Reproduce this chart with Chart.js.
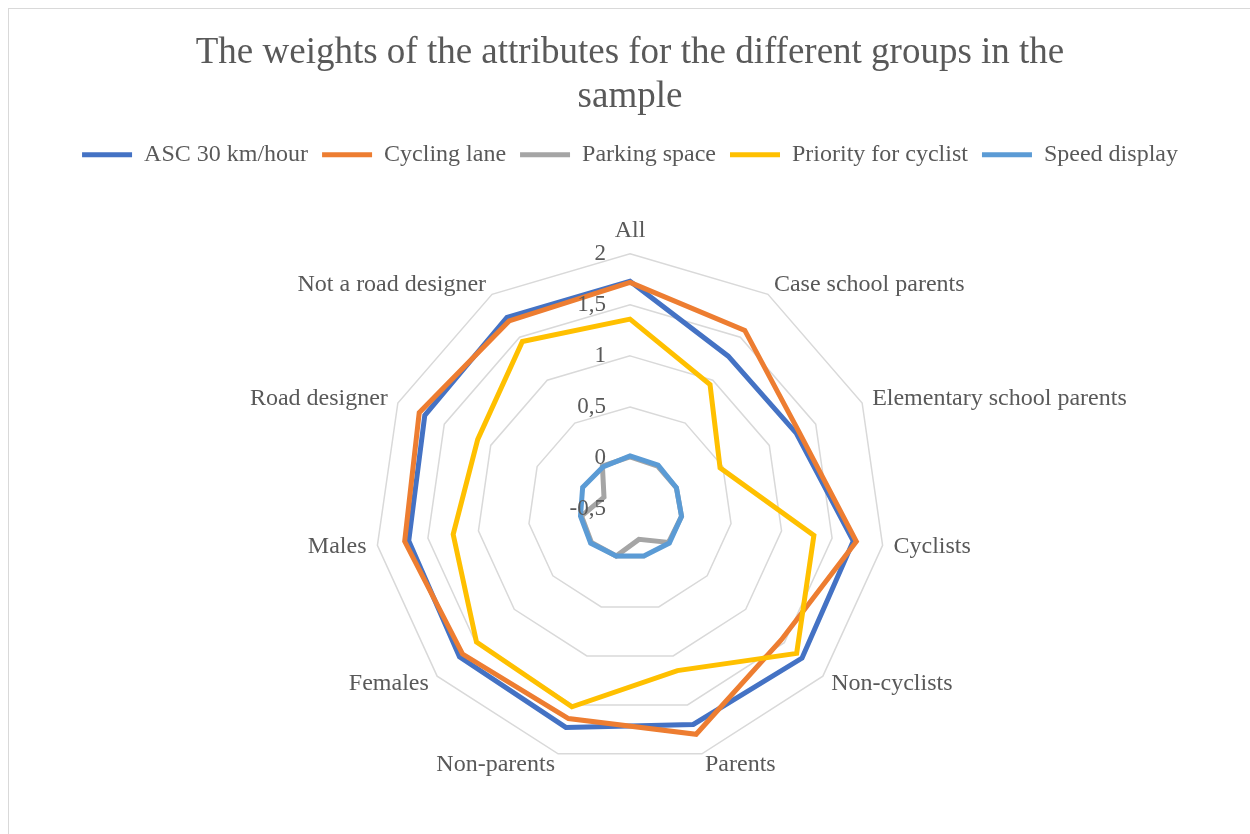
<!DOCTYPE html>
<html lang="en">
<head>
<meta charset="utf-8" />
<title>Attribute weights per group</title>
<script src="https://cdn.jsdelivr.net/npm/chart.js@4.4.1/dist/chart.umd.min.js"></script>
<style>
  body { margin: 0; background: #fff; }
  #frame {
    position: absolute; left: 8px; top: 8px;
    width: 1242px; height: 825px;
    border-left: 1px solid #d9d9d9; border-top: 1px solid #d9d9d9;
  }
</style>
</head>
<body>
<div id="frame"><canvas id="radar"></canvas></div>
<script>
// groups around the radar, clockwise from the top
var groups = ['All', 'Case school parents', 'Elementary school parents', 'Cyclists', 'Non-cyclists',
              'Parents', 'Non-parents', 'Females', 'Males', 'Road designer', 'Not a road designer'];

var asc30     = [1.73, 1.28, 1.29, 1.71, 1.73, 1.70, 1.73, 1.71, 1.69, 1.71, 1.73];
var cycleLane = [1.72, 1.58, 1.32, 1.74, 1.46, 1.80, 1.64, 1.67, 1.73, 1.77, 1.69];
var parking   = [0.01, 0.00, 0.00, 0.01, 0.00, -0.19, -0.02, 0.00, -0.02, -0.22, 0.00];
var priority  = [1.36, 0.95, 0.47, 1.32, 1.66, 1.15, 1.52, 1.49, 1.25, 1.14, 1.45];
var speedDisp = [0.02, 0.01, 0.00, 0.01, 0.01, -0.02, -0.02, 0.01, -0.01, 0.01, -0.01];

var tickValues = [-0.5, 0, 0.5, 1, 1.5, 2];
var tickLabels = ['-0,5', '0', '0,5', '1', '1,5', '2'];

var serif = "'Liberation Serif', 'Times New Roman', serif";
Chart.defaults.font.family = serif;
Chart.defaults.color = '#595959';

function series(label, data, color, order) {
  return {
    label: label,
    data: data,
    borderColor: color,
    backgroundColor: color,
    borderWidth: 5,
    borderCapStyle: 'round',
    fill: false,
    pointRadius: 0,
    pointHoverRadius: 0,
    tension: 0,
    order: order
  };
}

// axis numbers sit left of the vertical axis, on top of the lines
var sideTicks = {
  id: 'sideTicks',
  afterDatasetsDraw: function(chart) {
    var r = chart.scales.r;
    var ctx = chart.ctx;
    ctx.save();
    ctx.font = '23px ' + serif;
    ctx.fillStyle = '#595959';
    ctx.textAlign = 'right';
    ctx.textBaseline = 'middle';
    tickValues.forEach(function(v, i) {
      var d = r.getDistanceFromCenterForValue(v);
      ctx.fillText(tickLabels[i], r.xCenter - 24, r.yCenter - d);
    });
    ctx.restore();
  }
};

// group names: centred vertically on their spoke end, the top one sits above it
var groupLabels = {
  id: 'groupLabels',
  afterDraw: function(chart) {
    var r = chart.scales.r;
    var ctx = chart.ctx;
    ctx.save();
    ctx.font = '24px ' + serif;
    ctx.fillStyle = '#595959';
    groups.forEach(function(name, i) {
      var p = r.getPointPosition(i, r.drawingArea + 11);
      var dx = p.x - r.xCenter;
      if (Math.abs(dx) < 1) {
        ctx.textAlign = 'center';
        ctx.textBaseline = 'bottom';
      } else {
        ctx.textAlign = dx > 0 ? 'left' : 'right';
        ctx.textBaseline = 'middle';
      }
      ctx.fillText(name, p.x, p.y);
    });
    ctx.restore();
  }
};

new Chart(document.getElementById('radar'), {
  type: 'radar',
  data: {
    labels: groups,
    datasets: [
      series('ASC 30 km/hour', asc30, '#4472C4', 5),
      series('Cycling lane', cycleLane, '#ED7D31', 4),
      series('Parking space', parking, '#A5A5A5', 3),
      series('Priority for cyclist', priority, '#FFC000', 2),
      series('Speed display', speedDisp, '#5B9BD5', 1)
    ]
  },
  options: {
    responsive: true,
    maintainAspectRatio: false,
    animation: false,
    layout: { padding: { bottom: 35 } },
    plugins: {
      title: {
        display: true,
        text: ['The weights of the attributes for the different groups in the', 'sample'],
        font: { size: 37, weight: 'normal' },
        color: '#595959',
        padding: { top: 22, bottom: 9 }
      },
      // empty spacer between legend and plot
      subtitle: {
        display: true,
        text: '',
        weight: 500,
        font: { size: 1 },
        padding: { top: 0, bottom: 31 }
      },
      legend: {
        position: 'top',
        labels: {
          font: { size: 24 },
          color: '#595959',
          usePointStyle: true,
          pointStyle: 'line',
          pointStyleWidth: 50,
          padding: 14,
          sort: function(a, b) { return a.datasetIndex - b.datasetIndex; }
        }
      },
      tooltip: { enabled: false }
    },
    scales: {
      r: {
        min: -0.5,
        max: 2,
        ticks: { stepSize: 0.5, display: false },
        grid: { color: '#D9D9D9', lineWidth: 1.5 },
        angleLines: { display: false },
        // kept for the layout fit; the visible names come from groupLabels
        pointLabels: { font: { size: 24 }, color: 'rgba(0,0,0,0)', padding: 11 }
      }
    }
  },
  plugins: [sideTicks, groupLabels]
});
</script>
</body>
</html>
